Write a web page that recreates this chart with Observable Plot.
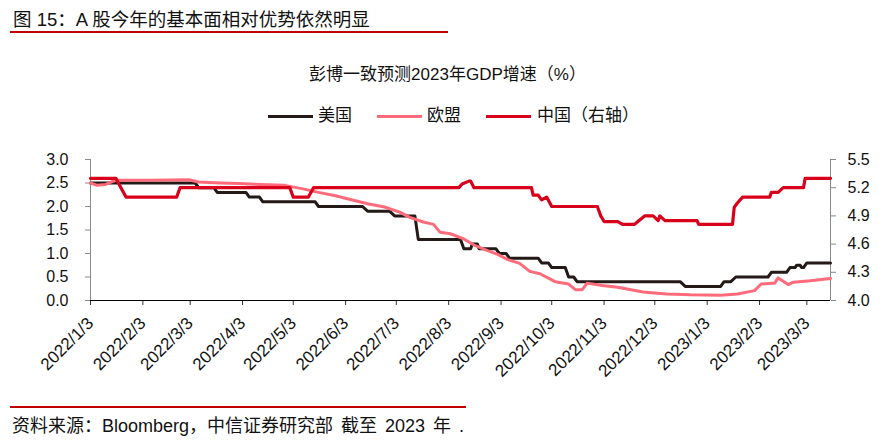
<!DOCTYPE html>
<html><head><meta charset="utf-8">
<script src="https://cdn.jsdelivr.net/npm/d3@7"></script>
<script src="https://cdn.jsdelivr.net/npm/@observablehq/plot@0.6"></script>
<style>
body{margin:0;background:#fff;width:895px;height:442px;overflow:hidden;position:relative;font-family:"Liberation Sans","Noto Sans CJK SC",sans-serif;color:#111}
#title{position:absolute;left:13px;top:5px;font-size:18.5px;white-space:nowrap}
#titleRule{position:absolute;left:10px;top:31px;width:438px;height:2px;background:#c00000}
#sub{position:absolute;left:0;width:895px;top:60px;text-align:center;font-size:17px;white-space:nowrap}
.lg{position:absolute;top:106px;font-size:17px;white-space:nowrap;line-height:20px}
.sw{position:absolute;top:115px;height:3px;width:45px}
#chart{position:absolute;left:0;top:140px}
#srcRule{position:absolute;left:10px;top:406px;width:456px;height:2px;background:#c00000}
#src{position:absolute;left:12px;top:411px;font-size:18px;word-spacing:3px;white-space:nowrap}
</style></head>
<body>
<div id="title">图 15：A 股今年的基本面相对优势依然明显</div>
<div id="titleRule"></div>
<div id="sub">彭博一致预测2023年GDP增速（%）</div>
<div id="legend"></div>
<div id="chart"></div>
<div id="srcRule"></div>
<div id="src">资料来源：Bloomberg，中信证券研究部 截至 2023 年 .</div>
<script>
const seriesNames = ["美国", "欧盟", "中国（右轴）"];
const seriesColors = ["#231916", "#ff6b7b", "#d9001b"];

const usDates = ["2022-01-03","2022-03-06","2022-03-08","2022-03-17","2022-03-19","2022-04-05","2022-04-07","2022-04-13","2022-04-15","2022-05-16","2022-05-18","2022-06-13","2022-06-16","2022-06-29","2022-07-02","2022-07-14","2022-07-16","2022-08-10","2022-08-12","2022-08-16","2022-08-17","2022-08-20","2022-08-21","2022-08-31","2022-09-02","2022-09-06","2022-09-08","2022-09-25","2022-09-27","2022-10-01","2022-10-03","2022-10-11","2022-10-13","2022-10-16","2022-10-18","2022-12-18","2022-12-21","2023-01-11","2023-01-13","2023-01-17","2023-01-20","2023-02-08","2023-02-10","2023-02-19","2023-02-21","2023-02-24","2023-02-25","2023-02-27","2023-02-28","2023-03-01","2023-03-03","2023-03-17"];
const usValues = [2.5,2.5,2.4,2.4,2.3,2.3,2.2,2.2,2.1,2.1,2.0,2.0,1.9,1.9,1.8,1.8,1.3,1.3,1.1,1.1,1.2,1.2,1.1,1.1,1.0,1.0,0.9,0.9,0.8,0.8,0.7,0.7,0.5,0.5,0.4,0.4,0.3,0.3,0.4,0.4,0.5,0.5,0.6,0.6,0.7,0.7,0.75,0.75,0.7,0.7,0.8,0.8];

const euDates = ["2022-01-03","2022-01-07","2022-01-12","2022-01-18","2022-02-07","2022-03-02","2022-03-08","2022-03-21","2022-04-01","2022-04-13","2022-04-28","2022-05-08","2022-05-18","2022-05-28","2022-06-07","2022-06-16","2022-06-26","2022-07-05","2022-07-11","2022-07-19","2022-07-25","2022-07-29","2022-08-04","2022-08-12","2022-08-18","2022-08-26","2022-09-01","2022-09-07","2022-09-14","2022-09-20","2022-09-26","2022-10-05","2022-10-13","2022-10-17","2022-10-21","2022-10-24","2022-11-02","2022-11-11","2022-11-26","2022-12-10","2022-12-24","2023-01-11","2023-01-21","2023-01-31","2023-02-04","2023-02-12","2023-02-14","2023-02-20","2023-02-23","2023-03-05","2023-03-17"];
const euValues = [2.50,2.45,2.47,2.56,2.56,2.57,2.52,2.50,2.49,2.47,2.45,2.38,2.30,2.23,2.14,2.06,1.99,1.88,1.77,1.67,1.62,1.45,1.42,1.31,1.18,1.06,0.98,0.87,0.79,0.62,0.57,0.40,0.35,0.23,0.23,0.37,0.32,0.28,0.18,0.14,0.12,0.11,0.14,0.21,0.35,0.37,0.48,0.34,0.39,0.42,0.47];

const cnDates = ["2022-01-03","2022-01-18","2022-01-21","2022-01-24","2022-02-23","2022-02-25","2022-05-01","2022-05-03","2022-05-12","2022-05-15","2022-08-09","2022-08-11","2022-08-15","2022-08-16","2022-08-18","2022-09-21","2022-09-22","2022-09-25","2022-09-27","2022-09-30","2022-10-03","2022-10-30","2022-11-01","2022-11-03","2022-11-11","2022-11-14","2022-11-21","2022-11-23","2022-11-27","2022-12-02","2022-12-05","2022-12-06","2022-12-09","2022-12-28","2022-12-29","2023-01-18","2023-01-19","2023-01-21","2023-01-24","2023-02-09","2023-02-10","2023-02-14","2023-02-17","2023-03-01","2023-03-02","2023-03-17"];
const cnValues = [5.3,5.3,5.2,5.1,5.1,5.2,5.2,5.1,5.1,5.2,5.2,5.24,5.27,5.27,5.2,5.2,5.12,5.12,5.07,5.1,5.0,5.0,4.9,4.84,4.84,4.81,4.81,4.84,4.9,4.9,4.85,4.9,4.85,4.85,4.81,4.81,4.99,5.04,5.1,5.1,5.15,5.15,5.2,5.2,5.3,5.3];

const leftTicks = [0.0, 0.5, 1.0, 1.5, 2.0, 2.5, 3.0];
const rightTicks = [4.0, 4.3, 4.6, 4.9, 5.2, 5.5];
const xTickDates = ["2022-01-03","2022-02-03","2022-03-03","2022-04-03","2022-05-03","2022-06-03","2022-07-03","2022-08-03","2022-09-03","2022-10-03","2022-11-03","2022-12-03","2023-01-03","2023-02-03","2023-03-03"];
const xDomain = ["2022-01-03", "2023-03-17"];

const parse = s => new Date(s + "T00:00:00Z");
const toRows = (ds, vs) => ds.map((d, i) => ({date: parse(d), v: vs[i]}));
const us = toRows(usDates, usValues);
const eu = toRows(euDates, euValues);
const cn = toRows(cnDates, cnValues);
// right axis (4.0–5.5) is mapped onto the left scale (0–3)
const rightToLeft = v => (v - 4) * 2;
const fmtDate = d => `${d.getUTCFullYear()}/${d.getUTCMonth() + 1}/${d.getUTCDate()}`;

// legend
const lg = document.getElementById("legend");
const swX = [268, 377, 486], txX = [318, 427, 537];
seriesNames.forEach((n, i) => {
  const s = document.createElement("div");
  s.className = "sw"; s.style.left = swX[i] + "px"; s.style.background = seriesColors[i];
  lg.appendChild(s);
  const t = document.createElement("div");
  t.className = "lg"; t.style.left = txX[i] + "px"; t.textContent = n;
  lg.appendChild(t);
});

const chart = Plot.plot({
  width: 895,
  height: 240,
  marginTop: 19,
  marginBottom: 80,
  marginLeft: 90,
  marginRight: 65,
  style: {fontFamily: '"Liberation Sans","Noto Sans CJK SC",sans-serif', fontSize: "16px", background: "transparent", color: "#111", overflow: "visible"},
  x: {type: "utc", domain: xDomain.map(parse)},
  y: {domain: [0, 3]},
  marks: [
    Plot.axisY({ticks: leftTicks, tickFormat: d => d.toFixed(1), tickSize: 5, tickPadding: 17, stroke: "#888", fill: "#111", fontSize: 16, label: null}),
    Plot.axisY({anchor: "right", ticks: rightTicks.map(rightToLeft), tickFormat: d => (4 + d / 2).toFixed(1), tickSize: 5, tickPadding: 12, stroke: "#888", fill: "#111", fontSize: 16, label: null}),
    Plot.ruleX([parse(xDomain[0])], {stroke: "#888"}),
    Plot.ruleX([parse(xDomain[1])], {stroke: "#888"}),
    Plot.axisX({ticks: xTickDates.map(parse), tickFormat: fmtDate, tickRotate: -45, tickSize: 5, tickPadding: 15, stroke: "#333", fill: "#111", fontSize: 17, label: null}),
    Plot.ruleY([0], {stroke: "#000", strokeWidth: 1.2}),
    Plot.line(us, {x: "date", y: "v", stroke: seriesColors[0], strokeWidth: 3}),
    Plot.line(eu, {x: "date", y: "v", stroke: seriesColors[1], strokeWidth: 3}),
    Plot.line(cn, {x: "date", y: d => rightToLeft(d.v), stroke: seriesColors[2], strokeWidth: 3.2})
  ]
});
document.getElementById("chart").appendChild(chart);
</script>
</body></html>
